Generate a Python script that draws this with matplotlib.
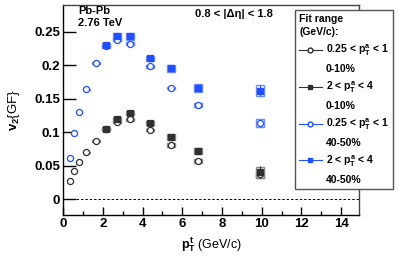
import matplotlib
matplotlib.use("Agg")
import matplotlib.pyplot as plt
from matplotlib.lines import Line2D
from matplotlib.patches import Rectangle

plt.rcParams['font.family'] = ['Liberation Sans', 'DejaVu Sans']
plt.rcParams['font.weight'] = 'bold'
plt.rcParams['mathtext.fontset'] = 'custom'
plt.rcParams['mathtext.rm'] = 'Liberation Sans:bold'
plt.rcParams['mathtext.it'] = 'Liberation Sans:bold'
plt.rcParams['mathtext.bf'] = 'Liberation Sans:bold'

# trigger pT bin centres
pt_low = [0.35, 0.57, 0.81, 1.18, 1.68, 2.17, 2.71, 3.35, 4.39, 5.43, 6.79, 9.9]
pt_high = [2.17, 2.71, 3.35, 4.39, 5.43, 6.79, 9.9]
box_w_low = [0.1, 0.1, 0.12, 0.2, 0.2, 0.2, 0.2, 0.2, 0.2, 0.2, 0.2, 0.2]
box_w_high = [0.2, 0.2, 0.2, 0.2, 0.2, 0.2, 0.2]

# 0.25 < pTa < 1, 0-10%
v2_c0_low = [0.027, 0.042, 0.055, 0.070, 0.087, 0.104, 0.115, 0.119, 0.103, 0.081, 0.057, 0.037]
stat_c0_low = [0.001, 0.001, 0.001, 0.001, 0.001, 0.001, 0.001, 0.001, 0.001, 0.001, 0.003, 0.006]
sys_c0_low = [0.0008, 0.0008, 0.0008, 0.0008, 0.001, 0.002, 0.002, 0.002, 0.002, 0.003, 0.003, 0.005]
# 2 < pTa < 4, 0-10%
v2_c0_high = [0.105, 0.120, 0.129, 0.114, 0.093, 0.072, 0.040]
stat_c0_high = [0.001, 0.001, 0.001, 0.002, 0.003, 0.004, 0.009]
sys_c0_high = [0.002, 0.003, 0.003, 0.003, 0.004, 0.005, 0.008]
# 0.25 < pTa < 1, 40-50%
v2_c4_low = [0.061, 0.098, 0.130, 0.164, 0.203, 0.228, 0.238, 0.232, 0.198, 0.166, 0.140, 0.114]
stat_c4_low = [0.001, 0.001, 0.001, 0.001, 0.001, 0.001, 0.001, 0.001, 0.001, 0.002, 0.002, 0.004]
sys_c4_low = [0.0008, 0.0008, 0.0008, 0.001, 0.002, 0.002, 0.002, 0.002, 0.002, 0.002, 0.003, 0.006]
# 2 < pTa < 4, 40-50%
v2_c4_high = [0.230, 0.243, 0.243, 0.210, 0.195, 0.166, 0.162]
stat_c4_high = [0.002, 0.003, 0.003, 0.003, 0.004, 0.005, 0.008]
sys_c4_high = [0.003, 0.005, 0.005, 0.004, 0.005, 0.006, 0.008]

black = '#303030'
black_box = '#8a8a8a'
blue = '#1f4fff'
blue_box = '#6f8dff'

fig = plt.figure(figsize=(3.99, 2.56), dpi=100)
ax = fig.add_axes([0.158, 0.159, 0.742, 0.82])


def draw_series(x, y, stat, sysu, bw, color, boxcolor, marker, filled):
    for xi, yi, si, wi in zip(x, y, sysu, bw):
        ax.add_patch(Rectangle((xi - wi, yi - si), 2 * wi, 2 * si, fill=False,
                               edgecolor=boxcolor, linewidth=1.0, zorder=2))
    ax.errorbar(x, y, yerr=stat, fmt=marker, color=color, ms=4.4 if marker == 'o' else 4.0,
                mfc=color if filled else 'white', mec=color, mew=0.9,
                elinewidth=0.9, capsize=0, zorder=3)


draw_series(pt_low, v2_c0_low, stat_c0_low, sys_c0_low, box_w_low, black, black_box, 'o', False)
draw_series(pt_high, v2_c0_high, stat_c0_high, sys_c0_high, box_w_high, black, black_box, 's', True)
draw_series(pt_low, v2_c4_low, stat_c4_low, sys_c4_low, box_w_low, blue, blue_box, 'o', False)
draw_series(pt_high, v2_c4_high, stat_c4_high, sys_c4_high, box_w_high, blue, blue_box, 's', True)

ax.axhline(0, color='black', linestyle=(0, (2.5, 2)), linewidth=0.7, zorder=1)

ax.set_xlim(0, 14.9)
ax.set_ylim(-0.024, 0.289)
ax.set_xticks([0, 2, 4, 6, 8, 10, 12, 14])
ax.set_xticks(range(1, 15, 2), minor=True)
ax.set_yticks([0, 0.05, 0.1, 0.15, 0.2, 0.25])
ax.set_yticklabels(['0', '0.05', '0.1', '0.15', '0.2', '0.25'])
ax.tick_params(axis='both', which='major', direction='in', length=6, width=1, labelsize=9.5, pad=2)
ax.tick_params(axis='x', which='minor', direction='in', length=3, width=1)
ax.tick_params(axis='y', which='major', length=9)
for s in ax.spines.values():
    s.set_linewidth(1.0)
ax.spines['right'].set_color('#444444')
ax.spines['top'].set_color('#444444')

ax.set_xlabel('$p_T^t$ (GeV/c)', fontsize=9, labelpad=4)
ax.set_ylabel('$v_2${GF}', fontsize=9.5, labelpad=9)

ax.text(0.05, 0.995, 'Pb-Pb\n2.76 TeV', transform=ax.transAxes, fontsize=8,
        fontweight='bold', va='top', ha='left', linespacing=1.15)
ax.text(0.445, 0.985, '0.8 < |Δη| < 1.8', transform=ax.transAxes, fontsize=8,
        fontweight='bold', va='top', ha='left')

blank = Line2D([], [], linestyle='none', marker='none')
handles = [
    Line2D([], [], color=black, lw=0.8, marker='o', mfc='white', mec=black, ms=3.5),
    blank,
    Line2D([], [], color=black, lw=0.8, marker='s', mfc=black, mec=black, ms=3.5),
    blank,
    Line2D([], [], color=blue, lw=0.8, marker='o', mfc='white', mec=blue, ms=3.5),
    blank,
    Line2D([], [], color=blue, lw=0.8, marker='s', mfc=blue, mec=blue, ms=3.5),
    blank,
]
labels = ['0.25 < $p_T^a$ < 1', '0-10%', '2 < $p_T^a$ < 4', '0-10%',
          '0.25 < $p_T^a$ < 1', '40-50%', '2 < $p_T^a$ < 4', '40-50%']
leg = fig.legend(handles, labels, title='Fit range\n(GeV/c):', loc='upper left',
                 bbox_to_anchor=(0.739, 0.961), fontsize=7.5, title_fontsize=7.5,
                 alignment='left', frameon=True, fancybox=False, framealpha=1,
                 edgecolor='#555555', labelspacing=0.55, handlelength=2.2,
                 handletextpad=0.4, borderpad=0.4, borderaxespad=0)
leg.get_frame().set_linewidth(1.0)
leg.get_title().set_fontweight('bold')
leg.get_title().set_linespacing(1.4)

fig.savefig('out.png', dpi=100)
